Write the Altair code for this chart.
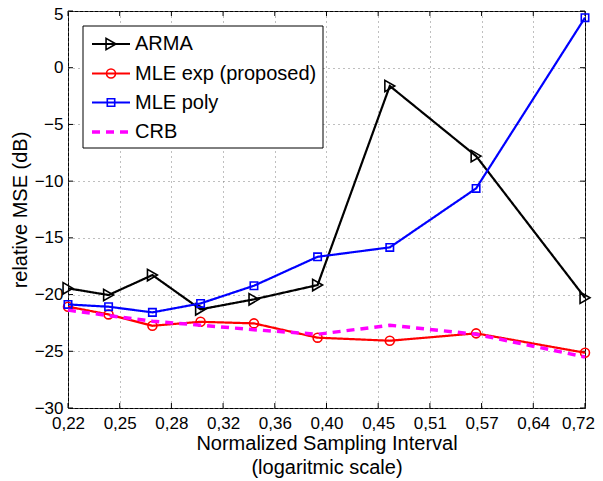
import altair as alt
import pandas as pd

# ---- data ----
x_vals = [0.2215, 0.2431, 0.2688, 0.3002, 0.3393, 0.3926, 0.4633, 0.5647, 0.7249]
arma = [-19.45, -20.04, -18.28, -21.30, -20.42, -19.16, -1.61, -7.79, -20.28]
mle_exp = [-21.07, -21.75, -22.75, -22.40, -22.54, -23.80, -24.07, -23.42, -25.13]
mle_poly = [-20.87, -21.07, -21.57, -20.78, -19.22, -16.67, -15.84, -10.64, 4.41]
crb = [-21.37, -21.85, -22.35, -22.70, -23.10, -23.50, -22.70, -23.50, -25.50]
series_names = ["ARMA", "MLE exp (proposed)", "MLE poly", "CRB"]
series_values = [arma, mle_exp, mle_poly, crb]

x_ticks = [0.2215, 0.24938, 0.28077, 0.31611, 0.35590, 0.40070,
           0.45113, 0.50792, 0.57185, 0.64383, 0.72487]
y_ticks = [-30, -25, -20, -15, -10, -5, 0, 5]
x_title = ["Normalized Sampling Interval", "(logaritmic scale)"]
y_title = "relative MSE (dB)"

# ---- styling ----
W, H = 517, 397
FONT = "Liberation Sans"
styles = {
    "ARMA": dict(color="#000000", shape="triangle-right", size=130, dash=[1, 0], width=2.2),
    "MLE exp (proposed)": dict(color="#ff0000", shape="circle", size=80, dash=[1, 0], width=2.2),
    "MLE poly": dict(color="#0000ff", shape="square", size=55, dash=[1, 0], width=2.2),
    "CRB": dict(color="#ff00ff", shape=None, size=0, dash=[8, 6], width=3.5),
}
legend_rows = [33, 62.5, 91.5, 121]

xscale = alt.Scale(type="log", domain=[0.2215, 0.7249], nice=False)
yscale = alt.Scale(domain=[-30, 5], nice=False, zero=False)

x_axis = alt.Axis(values=x_ticks, grid=True, ticks=False, domain=False,
                  labelExpr="replace(format(datum.value, '.2f'), '.', ',')",
                  labelFlush=False, labelOverlap=False, labelBound=False,
                  labelOffset={"condition": {"test": "datum.value > 0.7", "value": -7}, "value": 0},
                  labelPadding=7, title=x_title, titlePadding=2,
                  titleLineHeight=24)
y_axis = alt.Axis(values=y_ticks, grid=True, ticks=False, domain=False,
                  labelFlush=False, labelOverlap=False, labelBound=False,
                  labelOffset={"condition": {"test": "datum.value > 4", "value": 3}, "value": 0},
                  labelPadding=5, title=y_title, titlePadding=4)

rows = []
for name, vals in zip(series_names, series_values):
    for x, y in zip(x_vals, vals):
        rows.append({"series": name, "x": x, "y": y})
df = pd.DataFrame(rows)

X = alt.X("x:Q", scale=xscale, axis=x_axis)
Y = alt.Y("y:Q", scale=yscale, axis=y_axis)

layers = []
# inward ticks on all four sides (drawn first, under the data)
xt = pd.DataFrame({"x": x_ticks})
yt = pd.DataFrame({"y": y_ticks})
for y0, y1 in [(H, H - 5), (0, 5)]:
    layers.append(alt.Chart(xt).mark_rule(color="black", strokeWidth=1).encode(
        x=X, y=alt.value(y0), y2=alt.value(y1)))
for x0, x1 in [(0, 5), (W, W - 5)]:
    layers.append(alt.Chart(yt).mark_rule(color="black", strokeWidth=1).encode(
        y=Y, x=alt.value(x0), x2=alt.value(x1)))

for name in series_names:
    st = styles[name]
    sub = df[df["series"] == name]
    layers.append(alt.Chart(sub).mark_line(
        color=st["color"], strokeWidth=st["width"], strokeDash=st["dash"]
    ).encode(x=X, y=Y))
    if st["shape"]:
        layers.append(alt.Chart(sub).mark_point(
            shape=st["shape"], filled=False, size=st["size"],
            color=st["color"], strokeWidth=1.6, opacity=1
        ).encode(x=X, y=Y))

# legend box
one = pd.DataFrame({"k": [0]})
layers.append(alt.Chart(one).mark_rect(fill="white", stroke="black", strokeWidth=1).encode(
    x=alt.value(15), x2=alt.value(255), y=alt.value(15), y2=alt.value(137)))
for name, py in zip(series_names, legend_rows):
    st = styles[name]
    ld = pd.DataFrame({"name": [name]})
    layers.append(alt.Chart(ld).mark_rule(
        color=st["color"], strokeWidth=st["width"], strokeDash=st["dash"]
    ).encode(x=alt.value(24), x2=alt.value(62), y=alt.value(py)))
    if st["shape"]:
        layers.append(alt.Chart(ld).mark_point(
            shape=st["shape"], filled=False, size=st["size"],
            color=st["color"], strokeWidth=1.6, opacity=1
        ).encode(x=alt.value(43), y=alt.value(py)))
    layers.append(alt.Chart(ld).mark_text(
        align="left", baseline="middle", font=FONT, fontSize=20, color="black"
    ).encode(x=alt.value(67), y=alt.value(py), text="name:N"))

chart = alt.layer(*layers).properties(
    width=W, height=H,
    padding={"left": 60, "top": 3, "right": 10, "bottom": 72},
    autosize=alt.AutoSizeParams(type="none"),
).configure_view(
    stroke="black", strokeWidth=1
).configure_axis(
    labelFont=FONT, labelFontSize=17, labelColor="black",
    titleFont=FONT, titleFontSize=20, titleFontWeight="normal", titleColor="black",
    gridColor="#7f7f7f", gridDash=[1, 4], gridWidth=1, gridOpacity=1,
)

chart.save("out.html", embed_options={"renderer": "svg", "actions": False})
